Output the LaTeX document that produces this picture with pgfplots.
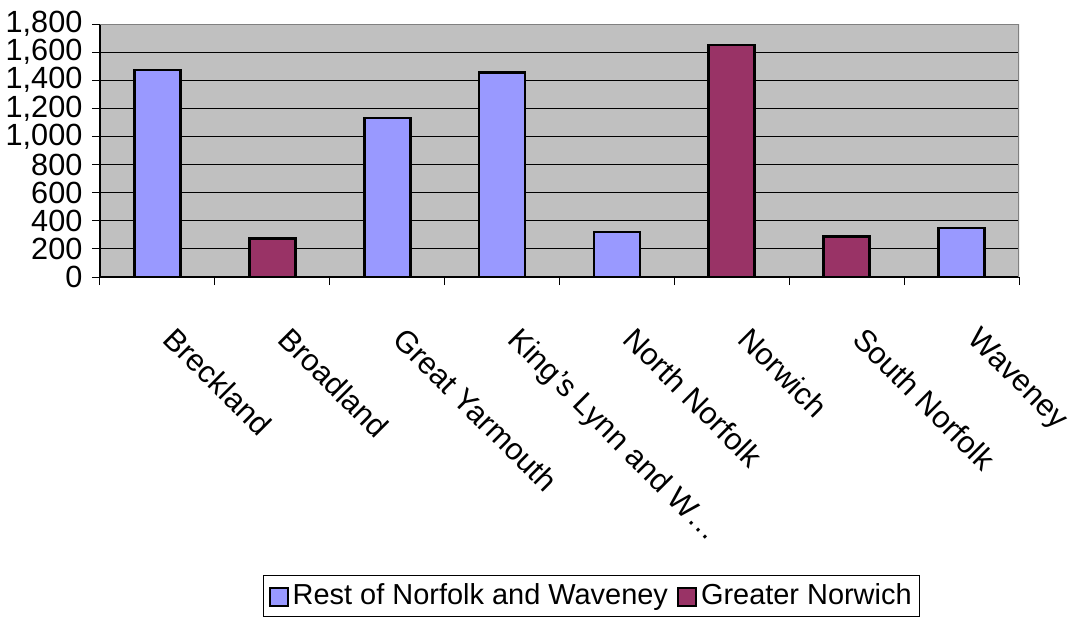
\documentclass[border=0pt]{standalone}
\usepackage{pgfplots}
\pgfplotsset{compat=1.18}
\usepackage{fontspec}
\setmainfont{Liberation Sans}
\definecolor{cblue}{HTML}{9999FF}
\definecolor{cmaroon}{HTML}{993366}
\definecolor{cgray}{HTML}{C0C0C0}
\begin{document}
\fontsize{21}{25}\selectfont
\begin{tikzpicture}[x=0.75pt,y=0.75pt]
\path[use as bounding box] (-100,-342) rectangle (971,277);
\begin{axis}[
  at={(0,0)}, anchor=south west,
  scale only axis, width=689.25pt, height=189.75pt,
  xmin=-0.5, xmax=7.5, ymin=0, ymax=1800,
  ytick={0,200,...,1800},
  xtick={-0.5,0.5,...,7.5},
  x tick label as interval,
  xticklabels={Breckland,Broadland,Great Yarmouth,{King's Lynn and W\ldots},North Norfolk,Norwich,South Norfolk,Waveney},
  xticklabel style={rotate=-45, anchor=north west, inner sep=0pt, xshift=32pt, yshift=-10.5pt, font=\fontsize{23}{27}\selectfont},
  yticklabel style={font=\fontsize{23}{27}\selectfont, inner sep=0pt, xshift=-7pt},
  /pgf/number format/.cd, 1000 sep={,}, assume math mode=true, /pgfplots/.cd,
  tick align=outside, major tick length=6pt,
  tick style={black, line width=0.75pt},
  axis x line*=bottom, axis y line*=left,
  axis line style={-, black, line width=1pt},
  axis background/.style={fill=cgray},
  ymajorgrids, major grid style={black, line width=0.75pt},
  legend style={at={(0.535,-1.178)}, anchor=north, legend columns=2, draw=black, line width=0.75pt,
    font=\fontsize{21.7}{26}\selectfont, inner sep=4pt,
    /tikz/every odd column/.append style={column sep=1pt},
    /tikz/every even column/.append style={column sep=5pt}},
  legend image code/.code={\draw[#1, line width=1.3pt] (0pt,-7.5pt) rectangle (13.5pt,6pt);},
]
\addplot[ybar, bar width=34.5pt, bar shift=0pt, fill=cblue, draw=black, line width=2pt]
  coordinates {(0,1472) (2,1131) (3,1456) (4,320) (7,348)};
\addlegendentry{Rest of Norfolk and Waveney}
\addplot[ybar, bar width=34.5pt, bar shift=0pt, fill=cmaroon, draw=black, line width=2pt]
  coordinates {(1,272) (5,1650) (6,287)};
\addlegendentry{Greater Norwich}
\draw[gray, line width=1pt] (rel axis cs:0,1) -- (rel axis cs:1,1) -- (rel axis cs:1,0);
\end{axis}
\end{tikzpicture}
\end{document}
